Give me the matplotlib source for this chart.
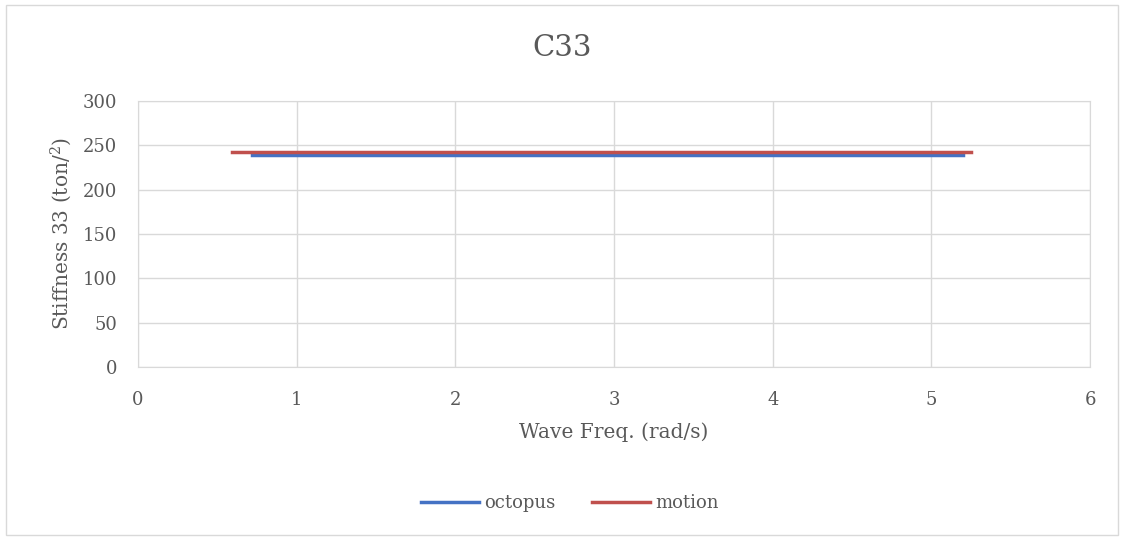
import matplotlib.pyplot as plt
from matplotlib.patches import Rectangle

# wave frequency (rad/s) and stiffness values
freq_octopus = [0.72, 1.5, 2.5, 3.5, 4.5, 5.2]
stiff_octopus = [239, 239, 239, 239, 239, 239]
freq_motion = [0.59, 1.5, 2.5, 3.5, 4.5, 5.25]
stiff_motion = [242, 242, 242, 242, 242, 242]

xticks = [0, 1, 2, 3, 4, 5, 6]
yticks = [0, 50, 100, 150, 200, 250, 300]

plt.rcParams['font.family'] = ['DejaVu Serif']
plt.rcParams['mathtext.fontset'] = 'dejavuserif'
txt = '#595959'

fig = plt.figure(figsize=(11.24, 5.4), dpi=100)
ax = fig.add_axes([0.1228, 0.3204, 0.847, 0.4926])

ax.plot(freq_octopus, stiff_octopus, color='#4472c4', lw=2.5, label='octopus')
ax.plot(freq_motion, stiff_motion, color='#c0504d', lw=2.5, label='motion')

ax.set_xlim(0, 6)
ax.set_ylim(0, 300)
ax.set_xticks(xticks)
ax.set_yticks(yticks)
ax.grid(True, color='#d9d9d9', lw=1)
ax.set_axisbelow(True)
for s in ax.spines.values():
    s.set_color('#d9d9d9')
ax.tick_params(length=0, labelsize=13, colors=txt)
ax.tick_params(axis='x', pad=17)
ax.tick_params(axis='y', pad=15)

ax.set_xlabel('Wave Freq. (rad/s)', fontsize=14.5, color=txt, labelpad=10)
ax.set_ylabel('Stiffness 33 (ton/$^2$)', fontsize=14.5, color=txt, labelpad=6)
fig.text(0.5, 0.912, 'C33', ha='center', va='center', fontsize=21, color=txt)

fig.legend(loc='center', bbox_to_anchor=(0.507, 0.068), ncol=2, frameon=False,
           fontsize=13, labelcolor=txt, handlelength=3.2, columnspacing=2.0,
           handletextpad=0.3)

fig.patches.append(Rectangle((0.005, 0.01), 0.99, 0.98, transform=fig.transFigure,
                             fill=False, edgecolor='#d9d9d9', lw=1))

fig.savefig('out.png', dpi=100)
